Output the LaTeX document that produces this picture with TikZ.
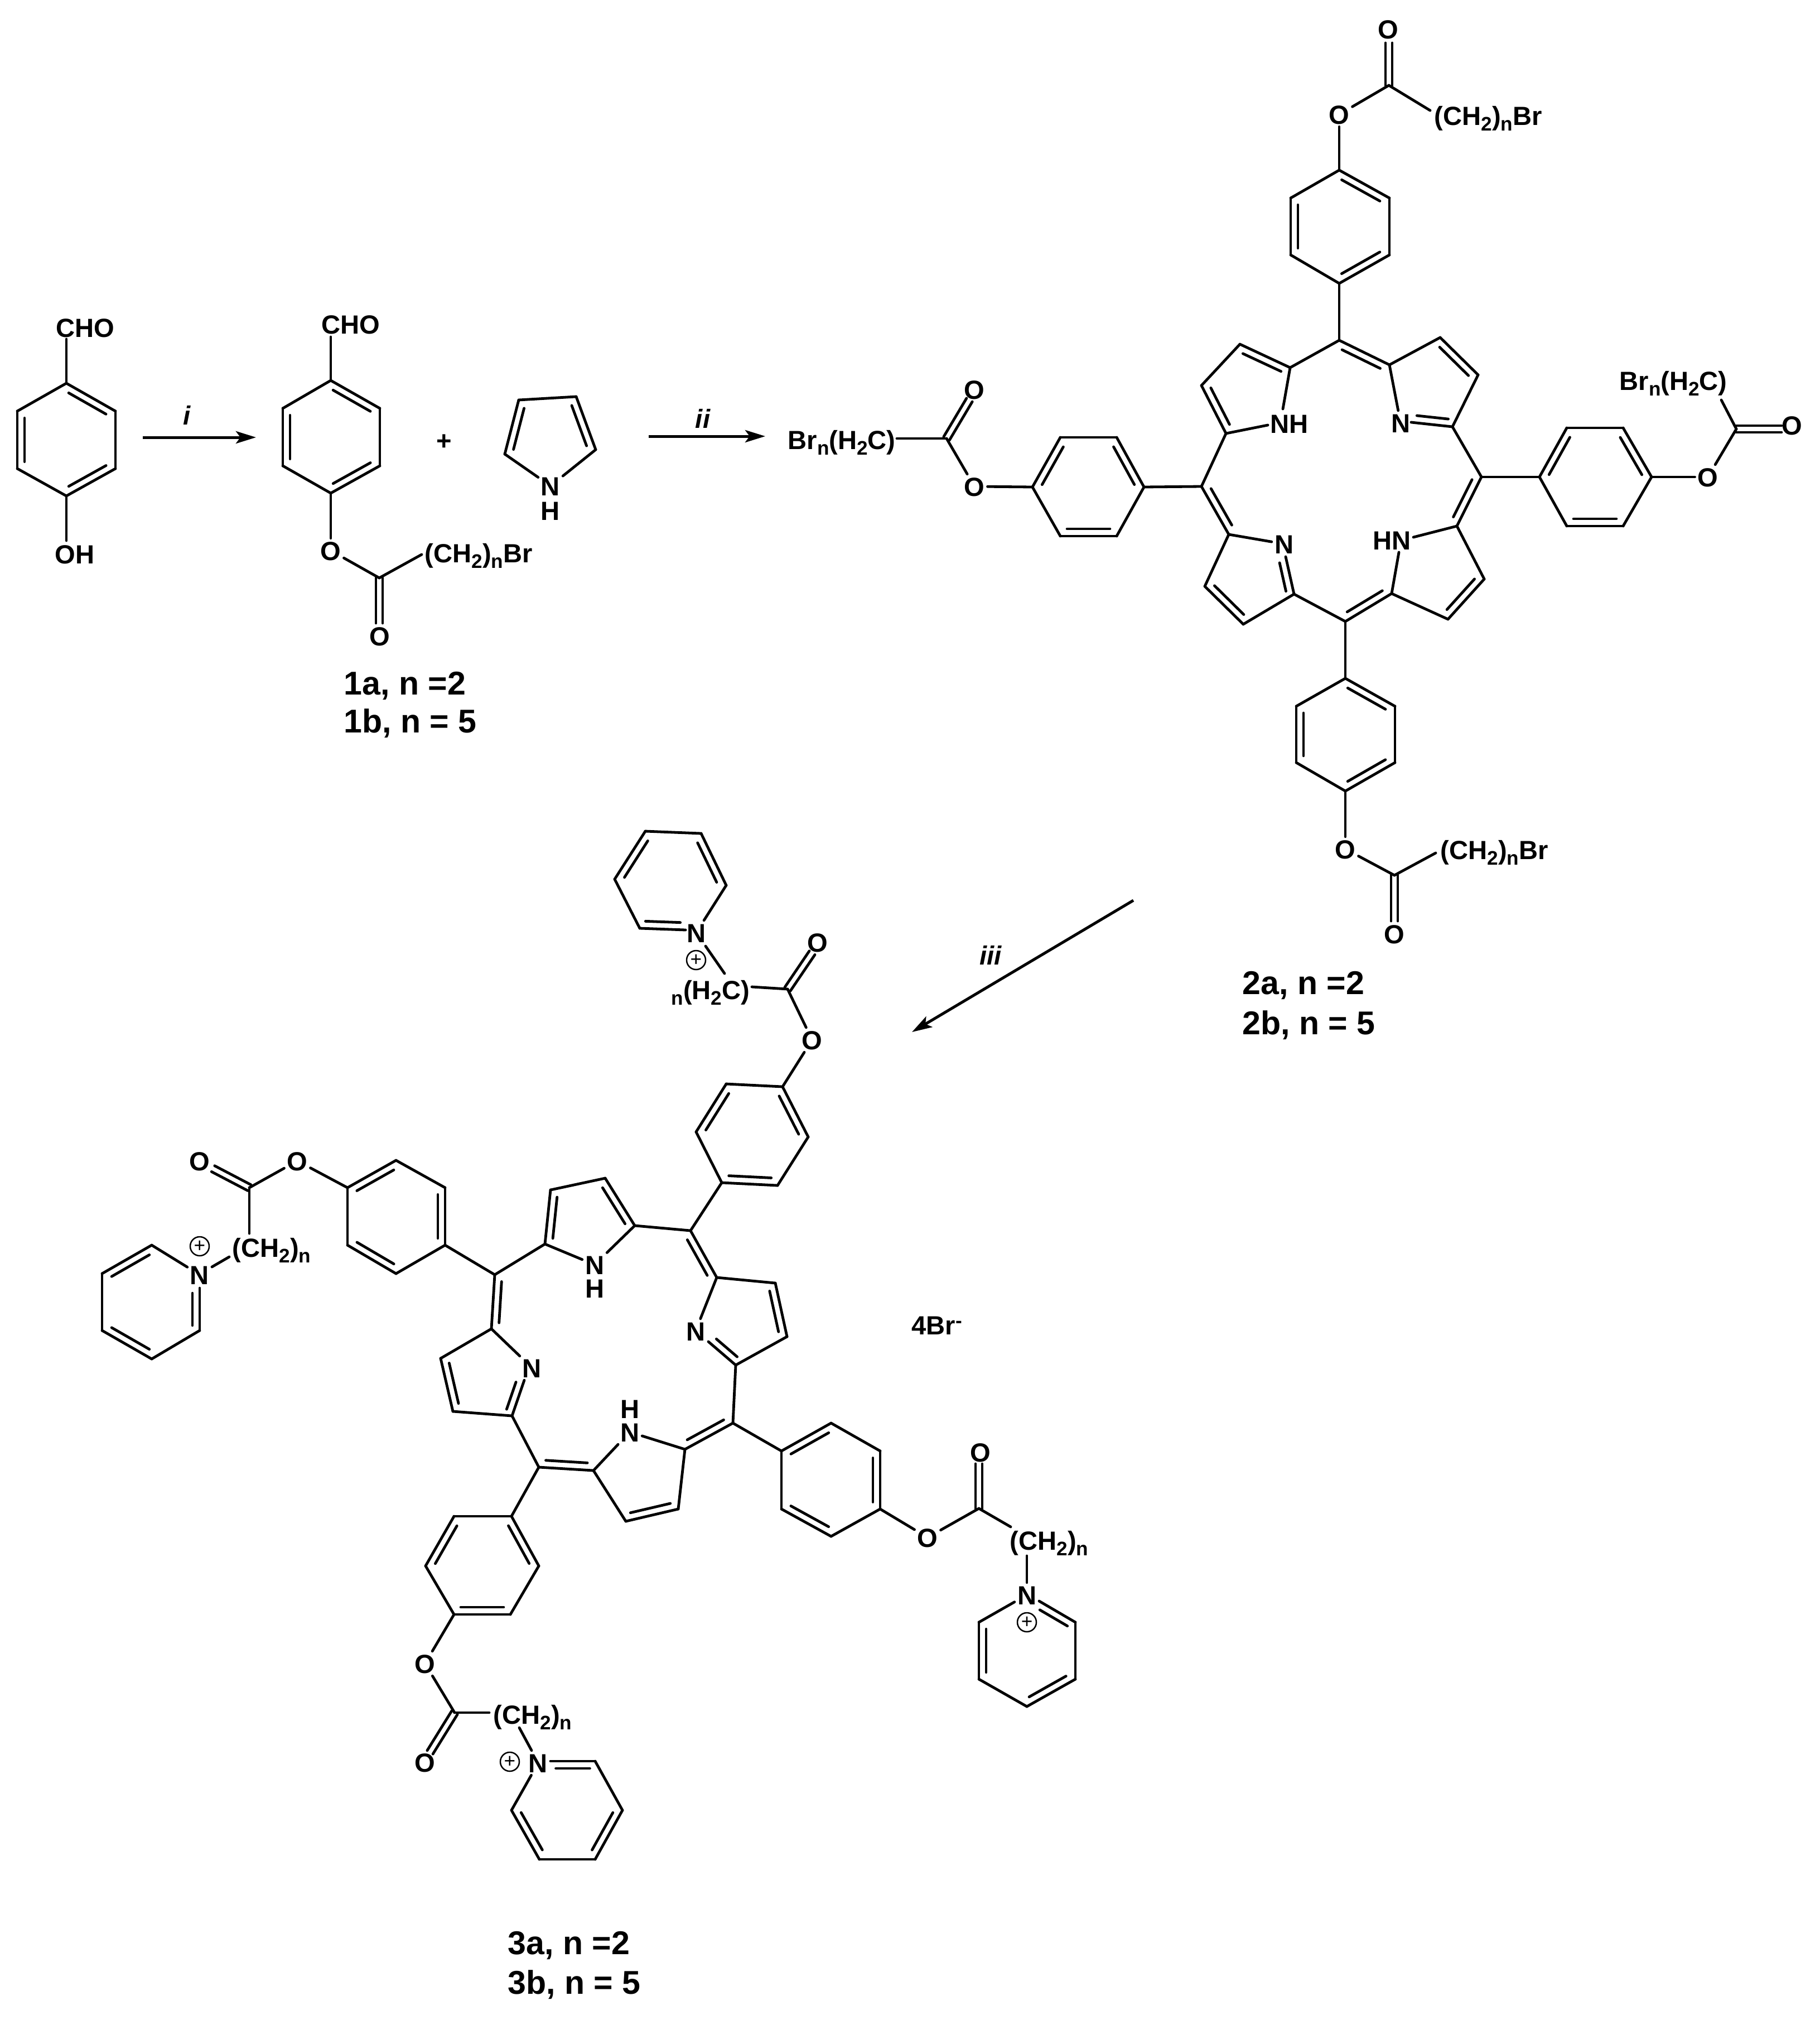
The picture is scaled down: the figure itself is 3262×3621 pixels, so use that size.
\documentclass[tikz,border=0pt]{standalone}
\usepackage{fontspec}
\setmainfont{Liberation Sans}
\usetikzlibrary{calc,arrows.meta}
\newcommand\chemfont{\fontsize{13.4}{16}\selectfont\bfseries}
\newcommand\labfont{\fontsize{16.8}{20}\selectfont\bfseries}
\newcommand\sbs[1]{\raisebox{-0.10cm}{\fontsize{10}{10}\selectfont #1}}
\newcommand\vtx[3]{\coordinate (#1) at (#2,#3);}
\newcommand\sgl[2]{\draw[bond] (#1) -- (#2);}
% double bond, inner line on the right of the travel from a to b
\newcommand\dbl[2]{\draw[bond] (#1) -- (#2);
  \draw[bond] ($(#1)!0.12!(#2)!0.13cm!-90:(#2)$) -- ($(#2)!0.12!(#1)!0.13cm!90:(#1)$);}
% symmetric double bond (carbonyl)
\newcommand\dbc[2]{\draw[bond] ($(#1)!0.06cm!90:(#2)$) -- ($(#2)!0.06cm!-90:(#1)$);
  \draw[bond] ($(#1)!0.06cm!-90:(#2)$) -- ($(#2)!0.06cm!90:(#1)$);}
\tikzset{
  bond/.style={line width=0.048cm,line cap=round,black},
  atom/.style={font=\chemfont,inner sep=0.045cm,text height=0.34cm,text depth=0pt},
  grp/.style={font=\chemfont,inner sep=0pt,anchor=west,text height=0.34cm,text depth=0pt},
  cmpd/.style={font=\labfont,inner sep=0pt,anchor=west},
  cond/.style={font=\chemfont\itshape,inner sep=0pt},
  rxn/.style={line width=0.05cm,black,-{Stealth[length=0.36cm,width=0.22cm,inset=0.08cm]}},
  chg/.style={circle,draw,line width=0.025cm,minimum size=0.34cm,inner sep=0pt,font=\fontsize{10}{10}\selectfont}
}
\begin{document}
\begin{tikzpicture}[x=0.01cm,y=-0.01cm]
\useasboundingbox (0,0) rectangle (3262,3621);
\fill[white] (0,0) rectangle (3262,3621);
%% ---- hydroxybenzaldehyde
\vtx{a1}{119}{687}\vtx{a2}{207}{737}\vtx{a3}{207}{840}\vtx{a4}{119}{889}\vtx{a5}{31}{840}\vtx{a6}{31}{737}
\vtx{a1t}{119}{608}\vtx{a4b}{119}{969}
\node[atom,inner sep=0pt] (acho) at (153,587) {CHO};
\node[atom,inner sep=0pt] (aoh) at (134,993) {OH};
\dbl{a1}{a2}\sgl{a2}{a3}\dbl{a3}{a4}\sgl{a4}{a5}\dbl{a5}{a6}\sgl{a6}{a1}
\sgl{a1}{a1t}\sgl{a4}{a4b}
%% arrow i
\vtx{ai1}{256}{784}\vtx{ai2}{459}{784}
\draw[rxn] (ai1) -- (ai2);
\node[cond] (ci) at (335,744) {i};
%% ---- ester aldehyde
\vtx{b1}{593}{682}\vtx{b2}{681}{732}\vtx{b3}{681}{835}\vtx{b4}{593}{884}\vtx{b5}{507}{835}\vtx{b6}{507}{732}
\vtx{b1t}{593}{604}
\node[atom,inner sep=0pt] (bcho) at (629,581) {CHO};
\node[atom] (bo) at (593,987) {O};
\vtx{bc}{680}{1036}\vtx{bce}{756}{994}\vtx{bco}{680}{1117}
\node[atom] (bo2) at (681,1140) {O};
\node[grp] (bg) at (761,991) {(CH\sbs{2})\sbs{n}Br};
\dbl{b1}{b2}\sgl{b2}{b3}\dbl{b3}{b4}\sgl{b4}{b5}\dbl{b5}{b6}\sgl{b6}{b1}
\sgl{b1}{b1t}\sgl{b4}{bo}\sgl{bo}{bc}\sgl{bc}{bce}\dbc{bc}{bco}
\node[cmpd] (l1a) at (616,1229) {1a, n =2};
\node[cmpd] (l1b) at (616,1297) {1b, n = 5};
\node[font=\chemfont,inner sep=0pt] (plus) at (796,793) {+};
%% ---- pyrrole
\vtx{p1}{930}{717}\vtx{p2}{1033}{711}\vtx{p3}{1068}{806}\vtx{p4}{905}{814}
\node[atom] (pyN) at (987,871) {N};
\node[atom,inner sep=0pt] (pyH) at (987,915) {H};
\sgl{p1}{p2}\dbl{p2}{p3}\sgl{p3}{pyN}\sgl{pyN}{p4}\dbl{p4}{p1}
%% arrow ii
\vtx{aii1}{1163}{782}\vtx{aii2}{1372}{782}
\draw[rxn] (aii1) -- (aii2);
\node[cond] (cii) at (1260,750) {ii};
%% ---- porphyrin 2
\vtx{m1}{2401}{610}\vtx{m2}{2656}{855}\vtx{m3}{2412}{1114}\vtx{m4}{2154}{872}
\vtx{ta}{2313}{659}\vtx{tb}{2223}{617}\vtx{tc}{2154}{691}\vtx{td}{2198}{777}
\node[atom,inner sep=0pt] (tnh) at (2311,759) {NH};
\vtx{tnh1}{2300}{733}\vtx{tnh2}{2273}{762}
\vtx{ua}{2491}{654}\vtx{ub}{2582}{605}\vtx{uc}{2650}{672}\vtx{ud}{2604}{765}
\node[atom] (un) at (2511,758) {N};
\vtx{ung}{2530}{757}
\vtx{va}{2612}{943}\vtx{vb}{2661}{1038}\vtx{vc}{2596}{1110}\vtx{vd}{2495}{1064}
\node[atom,inner sep=0pt] (vnh) at (2495,968) {HN};
\vtx{vnh1}{2534}{963}\vtx{vnh2}{2508}{990}
\vtx{wa}{2203}{958}\vtx{wb}{2160}{1051}\vtx{wc}{2229}{1119}\vtx{wd}{2320}{1065}
\node[atom] (wn) at (2302,975) {N};
\vtx{wng}{2305}{998}
\sgl{m1}{ta}\dbl{tb}{ta}\sgl{tb}{tc}\dbl{td}{tc}\sgl{ta}{tnh1}\sgl{td}{tnh2}
\dbl{m1}{ua}\sgl{ua}{ub}\dbl{ub}{uc}\sgl{uc}{ud}\sgl{ua}{un}\dbl{ud}{ung}
\sgl{ud}{m2}\dbl{m2}{va}\sgl{va}{vb}\dbl{vb}{vc}\sgl{vc}{vd}\sgl{va}{vnh1}\sgl{vd}{vnh2}
\dbl{vd}{m3}\sgl{m3}{wd}\sgl{wd}{wc}\dbl{wc}{wb}\sgl{wb}{wa}\sgl{wa}{wn}\dbl{wng}{wd}
\dbl{wa}{m4}\sgl{m4}{td}
%% top phenyl + ester
\vtx{h1}{2401}{305}\vtx{h2}{2491}{355}\vtx{h3}{2491}{457}\vtx{h4}{2401}{508}\vtx{h5}{2314}{457}\vtx{h6}{2314}{355}
\dbl{h1}{h2}\sgl{h2}{h3}\dbl{h3}{h4}\sgl{h4}{h5}\dbl{h5}{h6}\sgl{h6}{h1}
\sgl{h4}{m1}
\node[atom] (ho) at (2401,205) {O};
\vtx{hc}{2490}{153}\vtx{hce}{2564}{198}\vtx{hco}{2490}{77}
\node[atom] (ho2) at (2489,52) {O};
\node[grp] (hg) at (2571,207) {(CH\sbs{2})\sbs{n}Br};
\sgl{h1}{ho}\sgl{ho}{hc}\sgl{hc}{hce}\dbc{hc}{hco}
%% right phenyl + ester
\vtx{r1}{2760}{855}\vtx{r2}{2809}{767}\vtx{r3}{2910}{767}\vtx{r4}{2961}{855}\vtx{r5}{2910}{943}\vtx{r6}{2809}{943}
\dbl{r1}{r2}\sgl{r2}{r3}\dbl{r3}{r4}\sgl{r4}{r5}\dbl{r5}{r6}\sgl{r6}{r1}
\sgl{m2}{r1}
\node[atom] (ro) at (3062,855) {O};
\vtx{rc}{3113}{769}\vtx{rce}{3086}{717}\vtx{rco}{3194}{769}
\node[atom] (ro2) at (3213,762) {O};
\node[grp] (rg) at (2903,682) {Br\sbs{n}(H\sbs{2}C)};
\sgl{r4}{ro}\sgl{ro}{rc}\sgl{rc}{rce}\dbc{rc}{rco}
%% left phenyl + ester
\vtx{l1}{2051}{873}\vtx{l2}{2002}{961}\vtx{l3}{1901}{961}\vtx{l4}{1851}{873}\vtx{l5}{1901}{784}\vtx{l6}{2002}{784}
\dbl{l2}{l3}\sgl{l1}{l2}\sgl{l3}{l4}\dbl{l4}{l5}\sgl{l5}{l6}\dbl{l6}{l1}
\sgl{m4}{l1}
\node[atom] (lo) at (1747,872) {O};
\vtx{lc}{1697}{786}\vtx{lce}{1608}{786}\vtx{lco}{1738}{717}
\node[atom] (lo2) at (1747,698) {O};
\node[grp] (lg) at (1412,788) {Br\sbs{n}(H\sbs{2}C)};
\sgl{l4}{lo}\sgl{lo}{lc}\sgl{lc}{lce}\dbc{lc}{lco}
%% bottom phenyl + ester
\vtx{d1}{2412}{1216}\vtx{d2}{2501}{1266}\vtx{d3}{2501}{1367}\vtx{d4}{2412}{1418}\vtx{d5}{2324}{1367}\vtx{d6}{2324}{1266}
\dbl{d1}{d2}\sgl{d2}{d3}\dbl{d3}{d4}\sgl{d4}{d5}\dbl{d5}{d6}\sgl{d6}{d1}
\sgl{m3}{d1}
\node[atom] (dox) at (2412,1522) {O};
\vtx{dc}{2500}{1569}\vtx{dce}{2574}{1529}\vtx{dco}{2500}{1651}
\node[atom] (dox2) at (2500,1674) {O};
\node[grp] (dg) at (2582,1523) {(CH\sbs{2})\sbs{n}Br};
\sgl{d4}{dox}\sgl{dox}{dc}\sgl{dc}{dce}\dbc{dc}{dco}
\node[cmpd] (l2a) at (2227,1766) {2a, n =2};
\node[cmpd] (l2b) at (2227,1838) {2b, n = 5};
%% arrow iii
\vtx{aiii1}{2032}{1614}\vtx{aiii2}{1635}{1850}
\draw[rxn] (aiii1) -- (aiii2);
\node[cond] (ciii) at (1776,1712) {iii};
%% ---- porphyrin 3
\vtx{n1}{1238}{2206}\vtx{n2}{1314}{2551}\vtx{n3}{966}{2630}\vtx{n4}{887}{2285}
\vtx{ca}{1138}{2197}\vtx{cb}{1085}{2112}\vtx{cc}{987}{2133}\vtx{cd}{977}{2230}
\node[atom] (cn) at (1066,2267) {N};
\node[atom,inner sep=0pt] (chh) at (1066,2309) {H};
\vtx{ea}{1285}{2290}\vtx{eb}{1390}{2300}\vtx{ec}{1411}{2396}\vtx{ed}{1319}{2447}
\node[atom] (en) at (1247,2386) {N};
\vtx{eng}{1270}{2405}
\vtx{fa}{1228}{2598}\vtx{fb}{1216}{2705}\vtx{fc}{1122}{2727}\vtx{fd}{1064}{2636}
\node[atom] (fn) at (1129,2567) {N};
\node[atom,inner sep=0pt] (fhh) at (1129,2525) {H};
\vtx{ga}{918}{2538}\vtx{gb}{812}{2530}\vtx{gc}{790}{2435}\vtx{gd}{881}{2382}
\node[atom] (gn) at (954,2452) {N};
\vtx{gng}{940}{2474}
\sgl{n1}{ca}\dbl{cb}{ca}\sgl{cc}{cb}\dbl{cd}{cc}\sgl{ca}{cn}\sgl{cn}{cd}
\dbl{n1}{ea}\sgl{ea}{eb}\dbl{eb}{ec}\sgl{ec}{ed}\sgl{ea}{en}\dbl{ed}{eng}
\sgl{ed}{n2}\dbl{n2}{fa}\sgl{fa}{fb}\dbl{fb}{fc}\sgl{fc}{fd}\sgl{fa}{fn}\sgl{fn}{fd}
\dbl{fd}{n3}\sgl{n3}{ga}\sgl{ga}{gb}\dbl{gb}{gc}\sgl{gc}{gd}\sgl{gd}{gn}\dbl{gng}{ga}
\dbl{gd}{n4}\sgl{n4}{cd}
%% phenyl q + ester + pyridinium w
\vtx{q1}{1294}{2120}\vtx{q2}{1248}{2029}\vtx{q3}{1302}{1943}\vtx{q4}{1403}{1948}\vtx{q5}{1449}{2038}\vtx{q6}{1394}{2125}
\sgl{q1}{q2}\dbl{q2}{q3}\sgl{q3}{q4}\dbl{q4}{q5}\sgl{q5}{q6}\dbl{q6}{q1}
\sgl{n1}{q1}
\node[atom] (qo) at (1456,1864) {O};
\vtx{qc}{1412}{1773}\vtx{qce}{1348}{1769}\vtx{qco}{1456}{1708}
\node[atom] (qo2) at (1466,1689) {O};
\node[grp] (qg) at (1203,1774) {\sbs{n}(H\sbs{2}C)};
\sgl{q4}{qo}\sgl{qo}{qc}\sgl{qc}{qce}\dbc{qc}{qco}
\vtx{w1}{1157}{1490}\vtx{w2}{1257}{1494}\vtx{w3}{1302}{1587}\vtx{w5}{1147}{1664}\vtx{w6}{1102}{1576}
\node[atom] (wwn) at (1248,1672) {N};
\vtx{wwg}{1229}{1667}\vtx{wwa}{1265}{1696}\vtx{wwb}{1299}{1745}
\sgl{w1}{w2}\dbl{w2}{w3}\sgl{w3}{wwn}\dbl{wwg}{w5}\sgl{w5}{w6}\dbl{w6}{w1}
\sgl{wwa}{wwb}
\node[chg] (wwp) at (1248,1721) {+};
%% phenyl s + ester + pyridinium v
\vtx{s1}{798}{2232}\vtx{s2}{710}{2283}\vtx{s3}{623}{2232}\vtx{s4}{623}{2129}\vtx{s5}{710}{2080}\vtx{s6}{798}{2129}
\sgl{s1}{s2}\dbl{s2}{s3}\sgl{s3}{s4}\dbl{s4}{s5}\sgl{s5}{s6}\dbl{s6}{s1}
\sgl{n4}{s1}
\node[atom] (so) at (533,2081) {O};
\vtx{sc}{447}{2129}\vtx{sce}{447}{2211}\vtx{sco}{382}{2095}
\node[atom] (so2) at (358,2081) {O};
\node[grp] (sg) at (416,2236) {(CH\sbs{2})\sbs{n}};
\sgl{s4}{so}\sgl{so}{sc}\sgl{sc}{sce}\dbc{sc}{sco}
\node[atom] (vn) at (358,2285) {N};
\node[chg] (vp) at (358,2234) {+};
\vtx{sga}{411}{2253}\vtx{sgb}{380}{2271}
\sgl{sga}{sgb}
\vtx{v1}{272}{2232}\vtx{v2}{183}{2283}\vtx{v3}{183}{2385}\vtx{v4}{272}{2436}\vtx{v5}{358}{2385}\vtx{vg}{358}{2309}
\sgl{v1}{vn}\dbl{v2}{v1}\sgl{v2}{v3}\dbl{v4}{v3}\sgl{v4}{v5}\dbl{vg}{v5}
%% phenyl t + ester + pyridinium y
\vtx{t1}{1401}{2601}\vtx{t2}{1401}{2705}\vtx{t3}{1490}{2754}\vtx{t4}{1578}{2705}\vtx{t5}{1578}{2601}\vtx{t6}{1490}{2551}
\dbl{t1}{t6}\sgl{t6}{t5}\dbl{t5}{t4}\sgl{t4}{t3}\dbl{t3}{t2}\sgl{t2}{t1}
\sgl{n2}{t1}
\node[atom] (to) at (1663,2756) {O};
\vtx{tec}{1755}{2704}\vtx{tce}{1812}{2737}\vtx{tco}{1755}{2624}
\node[atom] (to2) at (1758,2603) {O};
\node[grp] (tg) at (1810,2761) {(CH\sbs{2})\sbs{n}};
\sgl{t4}{to}\sgl{to}{tec}\sgl{tec}{tce}\dbc{tec}{tco}
\node[atom] (yn) at (1841,2859) {N};
\node[chg] (yp) at (1841,2908) {+};
\vtx{tga}{1841}{2789}\vtx{yg}{1863}{2870}
\sgl{tga}{yn}
\vtx{y1}{1928}{2908}\vtx{y2}{1928}{3010}\vtx{y3}{1841}{3059}\vtx{y4}{1755}{3010}\vtx{y5}{1755}{2908}
\dbl{yg}{y1}\sgl{y1}{y2}\dbl{y2}{y3}\sgl{y3}{y4}\dbl{y4}{y5}\sgl{y5}{yn}
%% phenyl o + ester + pyridinium z
\vtx{o1}{917}{2718}\vtx{o2}{966}{2807}\vtx{o3}{915}{2894}\vtx{o4}{814}{2894}\vtx{o5}{763}{2807}\vtx{o6}{814}{2718}
\dbl{o1}{o2}\sgl{o2}{o3}\dbl{o3}{o4}\sgl{o4}{o5}\dbl{o5}{o6}\sgl{o6}{o1}
\sgl{n3}{o1}
\node[atom] (oo) at (762,2982) {O};
\vtx{oc}{815}{3070}\vtx{oce}{877}{3070}\vtx{oco}{771}{3141}
\node[atom] (oo2) at (762,3159) {O};
\node[grp] (og) at (884,3073) {(CH\sbs{2})\sbs{n}};
\sgl{o4}{oo}\sgl{oo}{oc}\sgl{oc}{oce}\dbc{oc}{oco}
\node[atom] (zn) at (965,3160) {N};
\node[chg] (zp) at (914,3158) {+};
\vtx{oga}{931}{3097}\vtx{zg}{987}{3157}
\sgl{oga}{zn}
\vtx{z1}{1067}{3157}\vtx{z2}{1116}{3245}\vtx{z3}{1067}{3333}\vtx{z4}{967}{3333}\vtx{z5}{917}{3245}
\dbl{zg}{z1}\sgl{z1}{z2}\dbl{z2}{z3}\sgl{z3}{z4}\dbl{z4}{z5}\sgl{z5}{zn}
%% labels
\node[grp] (brm) at (1634,2375) {4Br\raisebox{0.13cm}{\fontsize{10}{10}\selectfont -}};
\node[cmpd] (l3a) at (910,3487) {3a, n =2};
\node[cmpd] (l3b) at (910,3558) {3b, n = 5};
\end{tikzpicture}
\end{document}
